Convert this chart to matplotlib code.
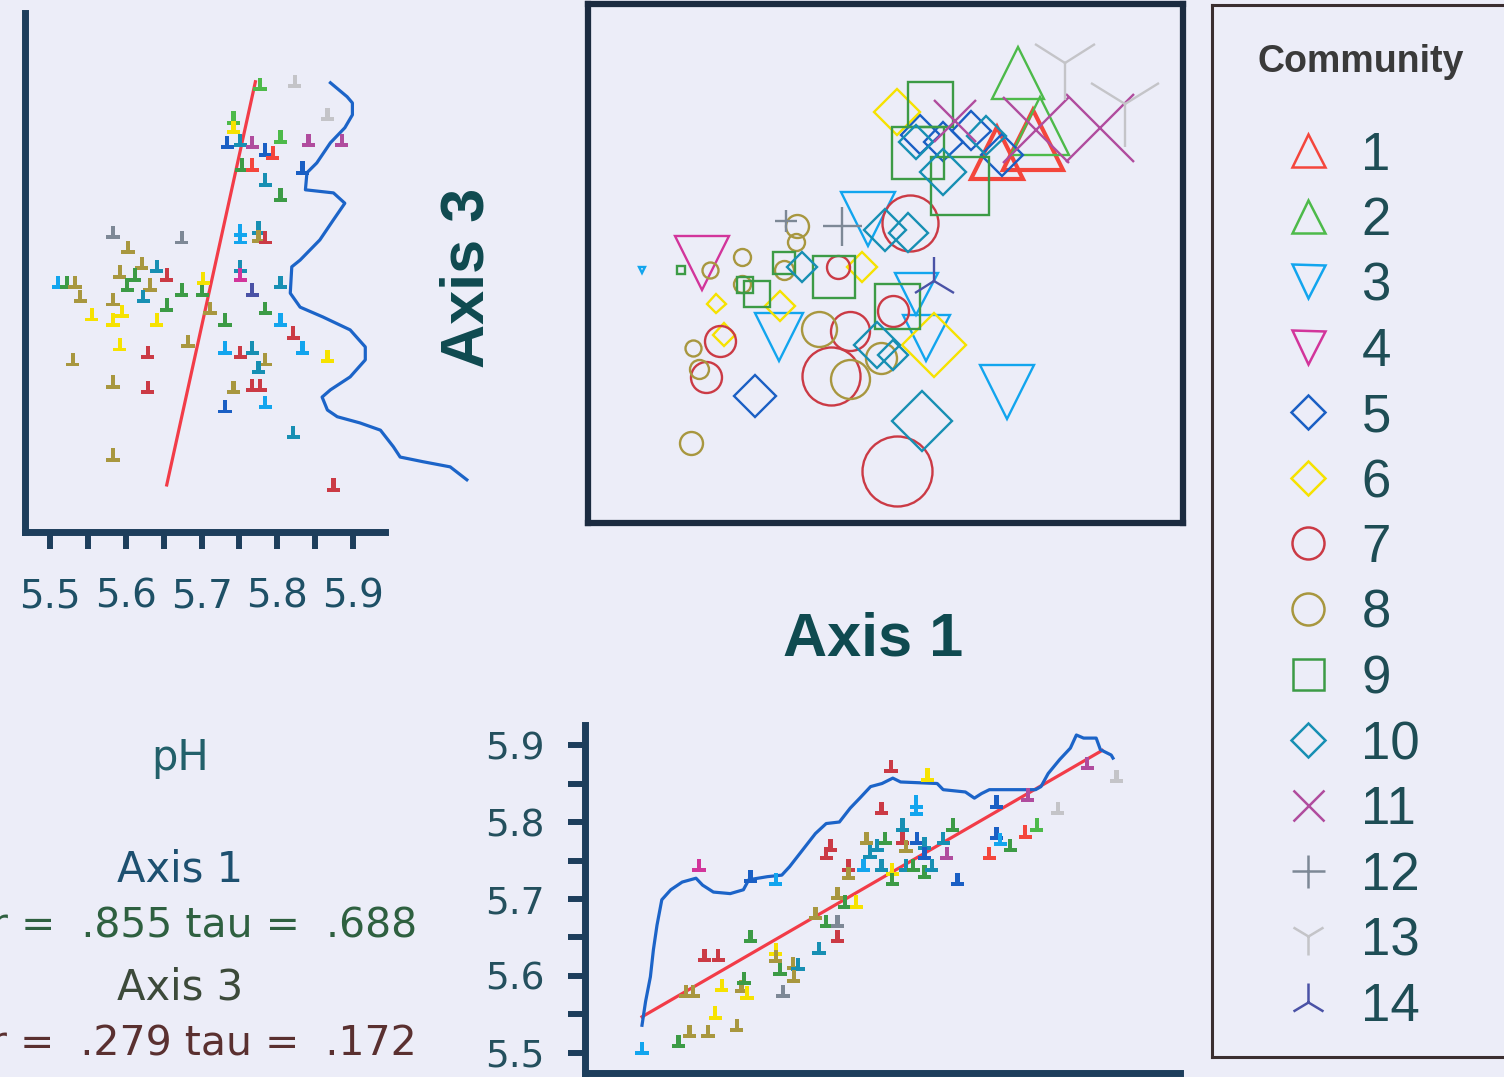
import numpy as np
import matplotlib
matplotlib.use("Agg")
import matplotlib.pyplot as plt
from matplotlib.path import Path

W, H = 1504, 1077
BG = '#ECEDF8'
INK = '#1D3E5C'

# ---------------- community styles
communities = list(range(1, 15))
comm_marker = {1: '^', 2: '^', 3: 'v', 4: 'v', 5: 'D', 6: 'D', 7: 'o', 8: 'o',
               9: 's', 10: 'D', 11: 'x', 12: '+', 13: '1', 14: '2'}
comm_color = {1: '#F4463C', 2: '#4DBA4A', 3: '#12A5EE', 4: '#D2359B', 5: '#1A5FC4',
              6: '#F6E200', 7: '#CB3A45', 8: '#A8973F', 9: '#3C9B46', 10: '#178FB3',
              11: '#B04C9E', 12: '#7D8896', 13: '#C4C4C8', 14: '#4A52A6'}

# ---------------- main ordination (Axis 1 x Axis 3), overlay = symbol size variable
main_comm = [1, 1, 2, 2, 3, 3, 3, 3, 3, 3, 4, 5, 5, 5, 5, 5,
             6, 6, 6, 6, 6, 6, 7, 7, 7, 7, 7, 7, 7, 7,
             8, 8, 8, 8, 8, 8, 8, 8, 8, 8, 8, 8,
             9, 9, 9, 9, 9, 9, 9, 9, 9,
             10, 10, 10, 10, 10, 10, 10, 10, 10,
             11, 11, 11, 12, 12, 13, 13, 14]
main_ax1 = [74.8, 68.7, 72.2, 76.0, 9.1, 47.0, 32.1, 56.8, 70.5, 55.1, 19.2, 28.0, 55.8, 64.3, 69.5, 59.7,
            51.9, 21.5, 22.8, 32.3, 58.1, 46.0, 51.9, 40.8, 22.2, 19.9, 54.1, 42.1, 44.0, 51.2,
            17.3, 17.6, 18.6, 35.2, 34.9, 25.8, 25.8, 38.8, 44.0, 49.3, 20.5, 32.9,
            57.4, 55.4, 62.6, 15.7, 28.4, 32.9, 41.4, 51.9, 26.4,
            56.1, 35.9, 48.6, 49.9, 53.8, 59.7, 55.1, 66.9, 51.2,
            86.1, 75.3, 61.6, 33.3, 42.7, 80.2, 90.3, 58.1]
main_ax3 = [73.7, 71.2, 86.7, 76.5, 48.7, 58.5, 35.9, 35.6, 25.2, 44.1, 50.0, 24.4, 74.8, 75.5, 70.9, 73.5,
            79.1, 42.2, 36.3, 41.8, 34.3, 49.3, 10.1, 28.4, 35.0, 28.1, 57.8, 49.3, 36.9, 40.8,
            15.4, 33.7, 29.7, 57.2, 54.2, 51.3, 46.1, 37.3, 27.8, 31.7, 48.7, 48.7,
            80.7, 71.2, 65.0, 48.7, 44.1, 50.0, 47.4, 41.8, 45.8,
            19.6, 49.3, 34.3, 56.5, 55.9, 67.6, 73.5, 74.5, 32.4,
            76.1, 75.8, 77.5, 58.2, 57.2, 88.6, 80.7, 46.7]
main_overlay = [6.0, 5.2, 5.2, 5.8, 0.6, 5.4, 4.8, 4.7, 5.4, 4.3, 5.4, 4.3, 3.9, 3.9, 4.3, 3.9,
                4.7, 1.9, 2.3, 3.1, 6.4, 3.1, 7.0, 5.8, 3.1, 3.1, 5.6, 2.3, 3.9, 3.1,
                2.3, 1.6, 1.9, 2.3, 1.7, 1.7, 1.7, 3.5, 3.9, 3.1, 1.6, 1.9,
                4.5, 5.2, 5.8, 0.8, 2.7, 2.3, 4.3, 4.5, 1.6,
                6.0, 3.1, 4.7, 4.3, 3.9, 4.7, 3.5, 3.9, 3.1,
                6.8, 6.6, 4.3, 2.3, 3.9, 6.0, 6.8, 3.9]

# ---------------- pH vs Axis 3 (top left)
ph3_ph = [5.777, 5.823, 5.866, 5.742, 5.742, 5.734, 5.751, 5.767, 5.804, 5.841, 5.885, 5.784, 5.794,
          5.753, 5.767, 5.833, 5.784, 5.804, 5.583, 5.674, 5.603, 5.751, 5.751, 5.775, 5.775, 5.784,
          5.621, 5.641, 5.654, 5.592, 5.612, 5.751, 5.751, 5.511, 5.522, 5.533, 5.602, 5.632, 5.674,
          5.701, 5.702, 5.767, 5.804, 5.540, 5.623, 5.583, 5.654, 5.555, 5.583, 5.595, 5.641, 5.711,
          5.731, 5.784, 5.804, 5.821, 5.592, 5.629, 5.682, 5.731, 5.751, 5.767, 5.833, 5.866, 5.530,
          5.784, 5.775, 5.583, 5.629, 5.742, 5.767, 5.777, 5.731, 5.784, 5.821, 5.583, 5.874]
ph3_ax3 = [86.1, 86.7, 80.3, 79.7, 77.8, 74.9, 75.4, 74.9, 76.0, 75.4, 75.4, 73.5, 72.9,
           70.6, 70.6, 70.0, 67.7, 64.8, 57.6, 56.5, 54.7, 58.0, 56.5, 58.4, 56.7, 56.5,
           51.6, 50.9, 49.3, 49.9, 49.3, 50.9, 49.3, 47.8, 47.8, 47.8, 47.4, 47.4, 46.4,
           46.4, 48.7, 46.4, 47.8, 45.1, 45.1, 44.5, 43.5, 41.6, 40.6, 42.2, 40.6, 42.9,
           40.6, 42.9, 40.6, 38.1, 35.8, 34.4, 36.4, 35.2, 34.4, 35.2, 35.2, 33.5, 32.9,
           32.9, 31.5, 28.6, 27.5, 27.5, 28.0, 28.0, 23.8, 24.6, 18.8, 14.5, 8.7]
ph3_comm = [2, 13, 13, 2, 6, 5, 10, 11, 2, 11, 11, 5, 1,
            9, 1, 5, 10, 9, 12, 12, 8, 3, 3, 10, 8, 7,
            8, 10, 7, 8, 9, 10, 4, 3, 9, 8, 9, 8, 9,
            9, 6, 14, 10, 8, 10, 8, 9, 6, 6, 6, 6, 8,
            9, 9, 3, 7, 6, 7, 8, 3, 7, 10, 3, 6, 8,
            8, 10, 8, 7, 8, 7, 7, 5, 3, 10, 8, 7]
ph3_fit_ph = [5.654, 5.771]
ph3_fit_ax3 = [8.7, 86.7]
ph3_smooth_ph = [5.870, 5.892, 5.899, 5.899, 5.889, 5.870, 5.852, 5.839, 5.837, 5.874, 5.889,
                 5.874, 5.856, 5.830, 5.819, 5.817, 5.830, 5.860, 5.896, 5.916, 5.916, 5.896,
                 5.870, 5.859, 5.866, 5.879, 5.909, 5.936, 5.953, 5.962, 5.992, 6.028, 6.050]
ph3_smooth_ax3 = [86.5, 83.8, 82.6, 80.3, 77.8, 74.9, 71.0, 69.1, 65.8, 65.2, 63.2,
                  60.0, 56.1, 52.2, 50.9, 45.8, 43.1, 41.2, 38.7, 35.4, 32.9, 29.6,
                  27.1, 25.7, 23.2, 21.9, 20.7, 19.3, 16.1, 14.1, 13.2, 12.2, 9.7]

# ---------------- Axis 1 vs pH (bottom)
ph1_ax1 = [9.0, 15.1, 16.9, 20.0, 24.8, 21.2, 17.5, 16.3, 22.3, 25.6, 26.5, 26.0, 19.4, 21.7, 27.1,
           31.3, 31.3, 32.0, 34.2, 35.0, 34.3, 32.5, 38.5, 41.6, 39.7, 41.6, 37.9, 41.6, 42.8, 44.7,
           43.4, 43.4, 45.9, 48.9, 50.7, 50.7, 39.7, 40.4, 18.5, 31.3, 27.1, 46.4, 49.5, 48.2, 47.0,
           48.9, 50.5, 56.6, 54.7, 54.7, 52.4, 52.4, 53.0, 54.8, 56.1, 56.1, 53.0, 54.2, 56.1, 57.3,
           59.2, 59.8, 60.8, 61.6, 68.1, 68.1, 68.7, 66.9, 70.4, 72.9, 74.8, 73.3, 78.3, 83.2, 88.1]
ph1_ph = [5.506, 5.515, 5.528, 5.528, 5.536, 5.552, 5.580, 5.580, 5.588, 5.586, 5.578, 5.597, 5.627, 5.627, 5.651,
          5.634, 5.625, 5.608, 5.616, 5.615, 5.599, 5.580, 5.636, 5.651, 5.671, 5.671, 5.681, 5.707, 5.696, 5.696,
          5.744, 5.733, 5.744, 5.744, 5.738, 5.725, 5.759, 5.770, 5.744, 5.725, 5.729, 5.779, 5.779, 5.770, 5.761,
          5.818, 5.872, 5.861, 5.826, 5.816, 5.796, 5.779, 5.768, 5.779, 5.772, 5.759, 5.744, 5.744, 5.735, 5.744,
          5.779, 5.759, 5.796, 5.725, 5.826, 5.785, 5.777, 5.759, 5.770, 5.787, 5.796, 5.835, 5.818, 5.876, 5.859]
ph1_comm = [3, 9, 8, 8, 8, 6, 8, 8, 6, 8, 6, 9, 7, 7, 9,
            6, 8, 9, 8, 10, 8, 12, 10, 7, 9, 12, 8, 8, 9, 6,
            7, 8, 3, 10, 6, 9, 7, 7, 4, 3, 5, 8, 9, 10, 10,
            7, 7, 6, 3, 3, 10, 7, 8, 5, 10, 5, 10, 9, 9, 10,
            10, 11, 9, 5, 5, 5, 3, 1, 9, 1, 2, 11, 13, 11, 13]
ph1_fit_ax1 = [9.0, 85.7]
ph1_fit_ph = [5.547, 5.893]
ph1_smooth_ax1 = [9.0, 9.6, 10.4, 10.9, 11.5, 12.3, 13.8, 15.7, 18.0, 19.1, 20.9, 23.7, 25.9, 26.8,
                  29.9, 32.3, 33.6, 36.0, 37.9, 39.7, 41.9, 43.7, 45.3, 47.1, 49.0, 50.8, 52.1, 58.2,
                  59.2, 62.9, 64.4, 65.6, 66.9, 74.6, 75.5, 76.7, 78.6, 80.4, 81.4, 82.6, 84.7, 85.4,
                  87.2, 87.5]
ph1_smooth_ph = [5.536, 5.567, 5.599, 5.634, 5.666, 5.699, 5.712, 5.722, 5.727, 5.718, 5.709, 5.707, 5.712, 5.725,
                 5.729, 5.731, 5.742, 5.766, 5.785, 5.798, 5.800, 5.818, 5.831, 5.846, 5.850, 5.857, 5.852, 5.850,
                 5.842, 5.839, 5.831, 5.837, 5.842, 5.842, 5.846, 5.863, 5.881, 5.896, 5.913, 5.909, 5.909, 5.894,
                 5.887, 5.883]

ph_ticks = [5.5, 5.6, 5.7, 5.8, 5.9]
ph_minor = [5.55, 5.65, 5.75, 5.85]
stats = {'Axis 1': (.855, .688), 'Axis 3': (.279, .172)}

# ---------------- helpers
PT = 72 / 100.0  # px -> pt


def rect(x0, y0, x1, y1):
    return [x0 / W, 1 - y1 / H, (x1 - x0) / W, (y1 - y0) / H]


def ms_for(marker, px):
    f = 1.0
    if marker == 'D':
        f = 1 / np.sqrt(2)
    elif marker in ('1', '2'):
        f = 1 / 0.8
    return px * PT * f


def fmt_stat(r, tau):
    return f'r =  {r:.3f}'.replace('0.', '.') + f' tau =  {tau:.3f}'.replace('0.', '.')


TEE = Path([(-1, -1), (1, -1), (1, -0.4), (0.32, -0.4), (0.32, 1), (-0.32, 1),
            (-0.32, -0.4), (-1, -0.4), (-1, -1)], closed=True)

fig = plt.figure(figsize=(W / 100, H / 100), dpi=100, facecolor=BG)

# ---------------- top left: pH x Axis 3
ax = fig.add_axes(rect(25, 13, 385, 532), facecolor='none')
ax.set_xlim(5.467, 5.942)
ax.set_ylim(-0.4, 100)
ax.plot(ph3_fit_ph, ph3_fit_ax3, color='#F23C48', lw=2.3, clip_on=False)
ax.plot(ph3_smooth_ph, ph3_smooth_ax3, color='#1C64C8', lw=2.3, clip_on=False)
ax.scatter(ph3_ph, ph3_ax3, marker=TEE, s=9.5 ** 2, c=[comm_color[c] for c in ph3_comm],
           linewidths=0, clip_on=False, zorder=3)
for s in ['top', 'right']:
    ax.spines[s].set_visible(False)
for s in ['left', 'bottom']:
    ax.spines[s].set_linewidth(5)
    ax.spines[s].set_color(INK)
ax.set_xticks(ph_ticks)
ax.set_xticks(ph_minor, minor=True)
ax.set_xticklabels([f'{v:.1f}' for v in ph_ticks], fontsize=28, color='#1E5066')
ax.tick_params(axis='x', which='both', length=12, width=4.3, color=INK, direction='out', pad=21)
ax.tick_params(axis='y', left=False, labelleft=False)

# ---------------- main ordination
axm = fig.add_axes(rect(588, 4, 1183, 523), facecolor=BG)
axm.set_xlim(0, 100)
axm.set_ylim(0, 100)
for x, y, c, ov in zip(main_ax1, main_ax3, main_comm, main_overlay):
    m = comm_marker[c]
    axm.plot(x, y, linestyle='none', marker=m, ms=ms_for(m, ov * 10),
             mfc='none', mec=comm_color[c], mew=3.0 if c == 1 else 1.7, clip_on=False)
axm.set_xticks([])
axm.set_yticks([])
for s in axm.spines.values():
    s.set_linewidth(4.5)
    s.set_color('#1B2B40')

fig.text(468 / W, 1 - 278 / H, 'Axis 3', rotation=90, ha='center', va='center',
         fontsize=44, fontweight='bold', color='#0F4A50', family='Liberation Sans')
fig.text(873 / W, 1 - 640 / H, 'Axis 1', ha='center', va='center',
         fontsize=44, fontweight='bold', color='#0F4A50', family='Liberation Sans')

# ---------------- bottom: Axis 1 x pH
axb = fig.add_axes(rect(585, 725, 1180, 1073), facecolor='none')
axb.set_xlim(-0.5, 98.67)
axb.set_ylim(5.474, 5.926)
axb.plot(ph1_fit_ax1, ph1_fit_ph, color='#F23C48', lw=2.3)
axb.plot(ph1_smooth_ax1, ph1_smooth_ph, color='#1C64C8', lw=2.3)
axb.scatter(ph1_ax1, ph1_ph, marker=TEE, s=9.5 ** 2, c=[comm_color[c] for c in ph1_comm],
            linewidths=0, clip_on=False, zorder=3)
for s in ['top', 'right']:
    axb.spines[s].set_visible(False)
for s in ['left', 'bottom']:
    axb.spines[s].set_linewidth(5)
    axb.spines[s].set_color(INK)
axb.set_yticks(ph_ticks)
axb.set_yticks(ph_minor, minor=True)
axb.set_yticklabels([f'{v:.1f}' for v in ph_ticks], fontsize=27, color='#24505E')
axb.tick_params(axis='y', which='both', length=12, width=4.3, color=INK, direction='out', pad=17)
axb.tick_params(axis='x', bottom=False, labelbottom=False)

# ---------------- stats text
txt = dict(ha='center', va='center', fontsize=30)
fig.text(180 / W, 1 - 758 / H, 'pH', color='#22606A', **txt)
fig.text(180 / W, 1 - 870 / H, 'Axis 1', color='#1D5070', **txt)
fig.text(417 / W, 1 - 927 / H, fmt_stat(*stats['Axis 1']),
         ha='right', va='center', fontsize=29.5, color='#2E6040')
fig.text(180 / W, 1 - 987 / H, 'Axis 3', color='#3C4A3A', **txt)
fig.text(417 / W, 1 - 1045 / H, fmt_stat(*stats['Axis 3']),
         ha='right', va='center', fontsize=29.5, color='#5A3030')

# ---------------- legend
axl = fig.add_axes(rect(1212, 5, 1530, 1057), facecolor=BG)
axl.set_xlim(0, 1)
axl.set_ylim(0, 1)
axl.set_xticks([])
axl.set_yticks([])
for s in axl.spines.values():
    s.set_linewidth(2.2)
    s.set_color('#3A2E30')
axl.text(0.466, 1 - 57 / 1052, 'Community', transform=axl.transAxes, ha='center', va='center',
         fontsize=27, fontweight='bold', color='#3A3A3A', family='Liberation Sans')
legend_px = {'^': 33, 'v': 33, 'D': 34, 'o': 32, 's': 31, 'x': 31, '+': 33, '1': 30, '2': 30}
for i, c in enumerate(communities):
    yc = 1 - (145 + 65.5 * i) / 1052
    m = comm_marker[c]
    axl.plot(0.303, yc, linestyle='none', marker=m, ms=ms_for(m, legend_px[m]), mfc='none',
             mec=comm_color[c], mew=1.8)
    axl.text(0.47, yc, str(c), ha='left', va='center_baseline', fontsize=38,
             color='#1E4D55', family='Liberation Sans')

fig.savefig('out.png', dpi=100, facecolor=BG)
